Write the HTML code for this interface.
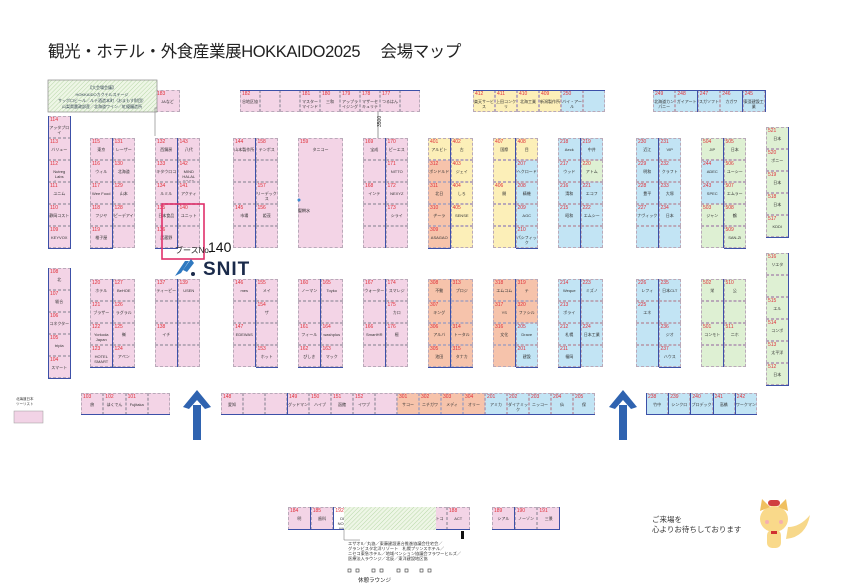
<!DOCTYPE html>
<html><head><meta charset="utf-8">
<style>
body{margin:0;width:842px;height:588px;background:#fff;position:relative;overflow:hidden;font-family:"Liberation Sans","Noto Sans CJK JP",sans-serif}
.c{position:absolute;box-sizing:border-box;border:1px dashed #b9a9b9;font-size:4px;color:#333;text-align:center;line-height:5px;overflow:hidden}
.c b{position:absolute;left:1px;top:1px;color:#e0303a;font-size:5px;font-weight:normal}
.c span{position:absolute;left:0;right:0;top:8px}
.v{position:absolute;background:#3c50a8}
.t{position:absolute;font-size:16.5px;color:#222;left:48px;top:38px;white-space:nowrap;letter-spacing:-0.4px}
</style></head><body>
<div class="t">観光・ホテル・外食産業展HOKKAIDO2025　 会場マップ</div>
<div id="m"></div>
<svg width="842" height="588" style="position:absolute;left:0;top:0;pointer-events:none">
<defs><pattern id="h" width="3" height="3" patternUnits="userSpaceOnUse" patternTransform="rotate(45)"><rect width="3" height="3" fill="#eef6e6"/><line x1="0" y1="0" x2="0" y2="3" stroke="#b8d8a8" stroke-width="1"/></pattern></defs>
<rect x="48" y="80" width="109" height="32" fill="url(#h)" stroke="#888" stroke-width="0.7"/>
<text x="102" y="89" font-size="4" text-anchor="middle" fill="#345">【大会場会議】</text>
<text x="102" y="96" font-size="4" text-anchor="middle" fill="#345">HOKKAIDOカクテルステージ</text>
<text x="102" y="102" font-size="4" text-anchor="middle" fill="#345">サッポロビール／ルテ酒造本町（おまもす財団）</text>
<text x="102" y="108" font-size="4" text-anchor="middle" fill="#345">山梨県農政部産／北海道ワイン／紅優醸造所</text>
<polyline points="157,108 155,108 155,136" stroke="#888" fill="none" stroke-width="0.7"/>
<rect x="344" y="507" width="92" height="23" fill="url(#h)"/>
<polyline points="344,530 344,540 360,540" stroke="#666" fill="none" stroke-width="0.5"/>
<text x="348" y="545" font-size="4.2" fill="#333">エザオII／丸協／東藤建設連合推進協議会住宅会／</text>
<text x="348" y="550" font-size="4.2" fill="#333">グランビスタ北洋リゾート　札幌プリンスホテル／</text>
<text x="348" y="555" font-size="4.2" fill="#333">ニセコ東急ホテル／地域ペンション協議会フラワーヒルズ／</text>
<text x="348" y="560" font-size="4.2" fill="#333">医療法人ラウンジ／北辰／東洋建設地区協</text>
<g fill="none" stroke="#333" stroke-width="0.6"><rect x="348" y="569" width="3" height="3"/><rect x="356" y="569" width="3" height="3"/><rect x="372" y="569" width="3" height="3"/><rect x="380" y="569" width="3" height="3"/><rect x="397" y="569" width="3" height="3"/><rect x="405" y="569" width="3" height="3"/><rect x="420" y="569" width="3" height="3"/><rect x="428" y="569" width="3" height="3"/></g>
<rect x="461" y="531" width="3" height="8" fill="#111"/>
<text x="358" y="582" font-size="5.5" fill="#222">休憩ラウンジ</text>
<g fill="#2f63b0"><rect x="193" y="405" width="8" height="35"/><polygon points="183,407 197,390 211,407 205,409 197,400 189,409"/>
<rect x="619" y="405" width="8" height="35"/><polygon points="609,407 623,390 637,407 631,409 623,400 615,409"/></g>
<rect x="162" y="204" width="42" height="55" fill="none" stroke="#e0306a" stroke-width="1.6"/>
<text x="175" y="253" font-size="8" fill="#222">ブースNo.</text><text x="208" y="252" font-size="14" fill="#111" font-family="Liberation Sans">140</text>
<g transform="translate(175,258)"><path d="M0,18 L10,3 L14,3 L6,15 Z" fill="#2f79c0"/><path d="M8,12 L16,1 L19,5 L12,14Z" fill="#2f79c0"/><circle cx="18" cy="16" r="2" fill="#1a2a4a"/>
<text x="28" y="17" font-size="19" font-weight="bold" fill="#1a2a4a" font-family="Liberation Sans" letter-spacing="1">SNIT</text></g>
<text x="298" y="212" font-size="4" fill="#222">聖餅水</text><circle cx="299" cy="200" r="1.5" fill="#3a8ad0"/>
<text x="381" y="127" font-size="5" fill="#222" transform="rotate(-90 381 127)">3500</text>
<line x1="378" y1="112" x2="378" y2="138" stroke="#555" stroke-width="0.6"/>
<text x="652" y="522" font-size="7.5" fill="#333">ご来場を</text>
<text x="652" y="532" font-size="7.5" fill="#333">心よりお待ちしております</text>
<g transform="translate(752,495)"><path d="M34,44 q20,-2 24,-24 q-10,12 -22,12z" fill="#f7d88a"/><ellipse cx="22" cy="24" rx="14" ry="13" fill="#f9d98a"/><path d="M8,16 l2,-12 l8,8z M36,16 l-2,-12 l-8,8z" fill="#f0c060"/><rect x="16" y="5" width="12" height="6" rx="3" fill="#d04040"/><rect x="15" y="35" width="14" height="18" rx="5" fill="#f9d98a"/><circle cx="15" cy="27" r="2" fill="#f6b0b0"/><circle cx="29" cy="27" r="2" fill="#f6b0b0"/><rect x="19" y="36" width="6" height="3" fill="#d03030"/></g>
<rect x="14" y="411" width="29" height="12" fill="#f2d3e6" stroke="#999" stroke-width="0.5"/>
<text x="16" y="400" font-size="3.5" fill="#333">北海道日本</text><text x="16" y="405" font-size="3.5" fill="#333">ツーリスト</text>
</svg>
<script>
var m=document.getElementById('m');
var P='#f3d4e6',S='#f6c3ab',Y='#fcefb8',B='#c2e4f4',G='#def0d3';
function c(x,y,w,h,col,n,l){var d=document.createElement('div');d.className='c';d.style.cssText='left:'+x+'px;top:'+y+'px;width:'+w+'px;height:'+h+'px;background:'+col;d.innerHTML=(n?'<b>'+n+'</b>':'')+'<span>'+(l||'')+'</span>';m.appendChild(d);}
function v(x,y,w,h){var d=document.createElement('div');d.className='v';d.style.cssText='left:'+x+'px;top:'+y+'px;width:'+w+'px;height:'+h+'px';m.appendChild(d);}
function blk(x,y,cols,cw){cw=cw||22.5;cols.forEach(function(col,i){var yy=y;col.forEach(function(k){var h=k[3]||22;c(x+i*cw,yy,cw,h,k[2],k[0],k[1]);yy+=h;if(k[0])v(x+i*cw,yy-0.5,cw,1);});});v(x+cw-0.5,y,1.2,cols[0].reduce(function(a,k){return a+(k[3]||22)},0));}
function col(a,color){return a.map(function(k){return [k[0],k[1],k[2]||color,k[3]]});}
c(155,90,25,22,P,'183','JAなど');
var t=[['182','谷地区協'],['',''],['',''],['181','マスターマインド'],['180','三和'],['179','アップライジング'],['178','マザーセキュリティ'],['177','つるはん'],['','']];
t.forEach(function(k,i){c(240+i*20,90,20,22,P,k[0],k[1]);});v(240,90,180,1);
[['412','楽天サービス'],['411','上田コンクリ'],['410','北海工業'],['409','新潟製作所']].forEach(function(k,i){c(473+i*22,90,22,22,Y,k[0],k[1]);});
c(561,90,22,22,B,'250','バイ・アール');c(583,90,22,22,B,'','');v(473,90,132,1);
[['249','北海道カンパニー'],['248','ガイアート'],['247','スガソフト'],['246','カガワ'],['245','東亜建設工業']].forEach(function(k,i){c(653+i*22.4,90,22.4,22,B,k[0],k[1]);v(653+i*22.4+22,90,1,22);});v(653,90,112,1);
blk(48,116,[col([['114','アッタプロイ'],['113','バリュー'],['112','Nutreg Labs Japan'],['111','ユニム'],['110','静岡コスト'],['109','KEYVOX']],P)]);v(48,116,1,132);
blk(90,138,[col([['115','東京'],['116','ウィル'],['117','Wee Food'],['118','フジヤ'],['119','椎子屋']],P),col([['131','レーザー'],['130','北海道'],['129','山本'],['128','ピーデアイ'],['','']],P)]);
blk(155,138,[col([['132','西鋼房'],['133','キタウロコ'],['134','ルミル'],['135','日本食品'],['136','武蔵野']],P),col([['143','八代'],['142','MIND HALAL FOOD'],['141','アクティ'],['140','ユニット'],['','']],P)]);
blk(233,138,[col([['144','山本製作所'],['',''],['',''],['145','市場'],['','']],P),col([['158','テンポス'],['',''],['157','リーデックス'],['156','姫茂'],['','']],P)]);
c(298,138,45,110,P,'159','タニコー');
blk(363,138,[col([['169','宝成'],['',''],['168','インテ'],['',''],['','']],P),col([['170','ピーエス'],['171','NITTO'],['172','NEXYZ'],['173','シライ'],['','']],P)]);
blk(428,138,[[['401','アルビト',Y],['312','ボンドルド',S],['311','北日',S],['310','ヂーラ',S],['309','ASAGAO',S]],[['402','古',Y],['403','ジェイ',Y],['404','しろ',Y],['405','SENSE',Y],['','',Y]]]);
blk(493,138,[[['407','国際',Y],['','',Y],['406','開',Y],['','',Y],['','',Y]],[['408','目',Y],['207','ヘクロード',B],['208','精機',B],['209','AGC',B],['210','パシフィック',B]]]);
blk(558,138,[col([['218','Aeck'],['217','ウッド'],['216','清和'],['215','昭和'],['','']],B),[['219','中井',B],['220','アトム',G],['221','エコフ',B],['222','エムシー',B],['','',B]]]);
blk(636,138,[col([['230','近江'],['229','明和'],['228','豊平'],['227','ナヴィック'],['','']],B),col([['231','VIP'],['232','クラフト'],['233','大塚'],['234','日本'],['','']],B)]);
blk(701,138,[[['504','JIP',G],['244','ADEC',B],['243','SPEC',B],['503','ジャン',G],['','',G]],[['505','日本',G],['506','ユーシー',G],['507','エムラー',G],['508','鶴',G],['509','SAN-ZI',G]]]);
blk(766,127,[col([['521','日本'],['520','ポニー'],['519','日本'],['518','日本'],['517','KDDI']],G)]);
blk(766,253,[col([['516','リエタ'],['',''],['515','エル'],['514','コンポ'],['513','太平洋'],['512','日本']],G)]);
blk(48,268,[col([['108','北'],['107','総合'],['106','コネクター'],['105','tripla'],['104','スマート']],P)]);
v(48,268,1,110);
blk(90,279,[col([['120','ホテル'],['121','ブラザー'],['122','Yorkoda Japan'],['123','HOTEL SMART']],P),col([['127','BeHOE'],['126','ラグラル'],['125','嶺'],['124','アペン']],P)]);
blk(155,279,[col([['137','ティーピー'],['',''],['138','イチ'],['','']],P),col([['139','USEN'],['',''],['',''],['','']],P)]);
blk(233,279,[col([['146','mes'],['',''],['147','EDEWAS'],['','']],P),col([['155','メイ'],['154','ザ'],['',''],['153','ホット']],P)]);
blk(298,279,[col([['160','ノーマン'],['',''],['161','フィール'],['162','ぴしき']],P),col([['165','Toyko'],['',''],['164','washplus'],['163','マック']],P)]);
blk(363,279,[col([['167','ウォーター'],['',''],['166','SmartHR'],['','']],P),col([['174','スマレジ'],['175','カロ'],['176','極'],['','']],P)]);
blk(428,279,[col([['308','不動'],['307','キング'],['306','アルバ'],['305','池田']],S),col([['313','プロジ'],['',''],['314','トータル'],['315','タナカ']],S)]);
blk(493,279,[[['318','エムコム',S],['317','YS',S],['316','文化',S],['','',S]],[['319','テ',S],['320','ファシル',S],['205','Drave',B],['201','建設',B]]]);
blk(558,279,[col([['214','Weque'],['213','ポライ'],['212','札幌'],['211','福岡']],B),col([['223','ミズノ'],['',''],['224','日本工業'],['','']],B)]);
blk(636,279,[col([['226','レフィ'],['225','エネ'],['',''],['','']],B),col([['235','日本CLT'],['',''],['236','ジオ'],['237','ハウス']],B)]);
blk(701,279,[col([['502','栄'],['',''],['501','コンモト'],['','']],G),col([['510','公'],['',''],['511','二ホ'],['','']],G)]);
[['103','旅'],['102','ほくでん'],['101','Fujitaka'],['','']].forEach(function(k,i){c(81+i*22.3,393,22.3,22,P,k[0],k[1]);});v(81,414,89,1.2);
var br=[['148','愛知'],['',''],['',''],['149','グッドマン'],['150','ハイブ'],['151','函館'],['152','イワブ'],['',''],['301','サコー',S],['302','ニチガワ',S],['303','メディ',S],['304','オリー',S],['201','アミカ',B],['202','ダイナミック',B],['203','ニッコー',B],['204','仙',B],['205','保',B]];
br.forEach(function(k,i){c(221+i*22,393,22,22,k[2]||P,k[0],k[1]);});v(221,414,374,1.2);v(287,393,1,22);
[['238','竹中'],['239','シンクロ'],['240','プロデック'],['241','高橋'],['242','ワークマン']].forEach(function(k,i){c(646+i*22.2,393,22.2,22,B,k[0],k[1]);v(646+i*22.2,393,1,22);});v(646,414,111,1.2);
[['184','明'],['185','歯科'],['192','DEM NORTH WAVE'],['','北海道'],['',''],['',''],['187','コストコ'],['188','ACT']].forEach(function(k,i){c(288+i*22.7,507,22.7,23,i>=2&&i<=5?'transparent':P,k[0],k[1]);});v(288,529,182,1.2);v(310,507,1,23);v(333,507,1,23);v(424,507,1,23);
[['189','シアル'],['190','ノーゾン'],['191','三景']].forEach(function(k,i){c(492+i*22.7,507,22.7,23,P,k[0],k[1]);v(492+i*22.7+22,507,1,23);});v(492,529,68,1.2);
c(14,411,29,12,P,'','ホニー');
</script>
</body></html>
